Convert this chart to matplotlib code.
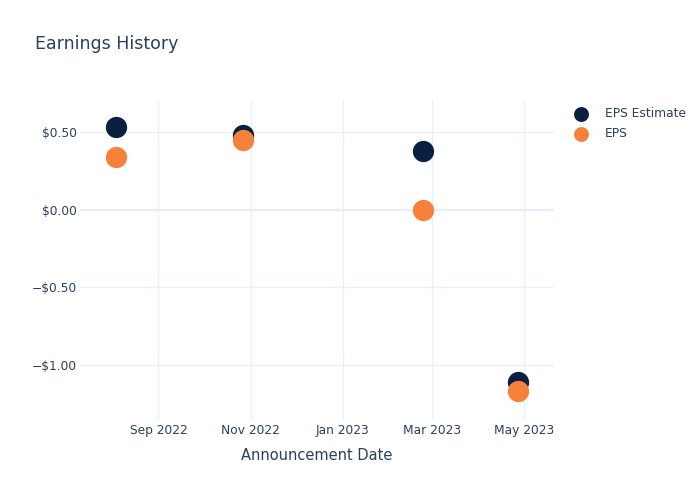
#Earnings History scatter

#importing the libraries
import numpy as np
import pandas as pd
import matplotlib
matplotlib.use('Agg')
import matplotlib.pyplot as plt
import matplotlib.dates as mdates
from matplotlib.ticker import FuncFormatter

#data
dates = ['2022-08-04', '2022-10-27', '2023-02-23', '2023-04-27']
eps_estimate = [0.53, 0.48, 0.38, -1.11]
eps_actual = [0.34, 0.45, 0.00, -1.17]
x_ticks = ['2022-09-01', '2022-11-01', '2023-01-01', '2023-03-01', '2023-05-01']
y_ticks = [-1.0, -0.5, 0.0, 0.5]

dates = pd.to_datetime(dates)
text_color = '#2a3f5f'
grid_color = '#ebf0f8'

plt.rcParams['font.family'] = ['DejaVu Sans']

fig = plt.figure(figsize=(7, 5), dpi=100)
ax = fig.add_axes([0.1143, 0.16, 0.677, 0.64])

ax.scatter(dates, eps_estimate, s=235, color='#0b1f41', label='EPS Estimate', zorder=3, linewidths=0)
ax.scatter(dates, eps_actual, s=235, color='#f6813a', label='EPS', zorder=4, linewidths=0)

ax.set_xlim(pd.Timestamp('2022-07-11'), pd.Timestamp('2023-05-21'))
ax.set_ylim(-1.355, 0.706)

ax.set_xticks(pd.to_datetime(x_ticks))
ax.xaxis.set_major_formatter(mdates.DateFormatter('%b %Y'))
ax.set_yticks(y_ticks)

def money(v, pos):
    if v < 0:
        return '\u2212$%.2f' % abs(v)
    return '$%.2f' % v
ax.yaxis.set_major_formatter(FuncFormatter(money))

ax.grid(True, color=grid_color, linewidth=1, zorder=0)
ax.axhline(0, color='#e5eaf3', linewidth=1.6, zorder=1)
for s in ax.spines.values():
    s.set_visible(False)
ax.tick_params(length=0, labelsize=8.8, labelcolor=text_color)
ax.tick_params(axis='x', pad=3)
ax.tick_params(axis='y', pad=2)

ax.set_xlabel('Announcement Date', fontsize=10.5, color=text_color, labelpad=8)
fig.text(0.05, 0.912, 'Earnings History', fontsize=12.5, color=text_color, va='center')

ax.legend(loc='upper left', bbox_to_anchor=(1.009, 1.012), frameon=False,
          fontsize=8.8, labelcolor=text_color, markerscale=0.7,
          handletextpad=0.9, labelspacing=0.6)

plt.savefig('out.png', dpi=100)
